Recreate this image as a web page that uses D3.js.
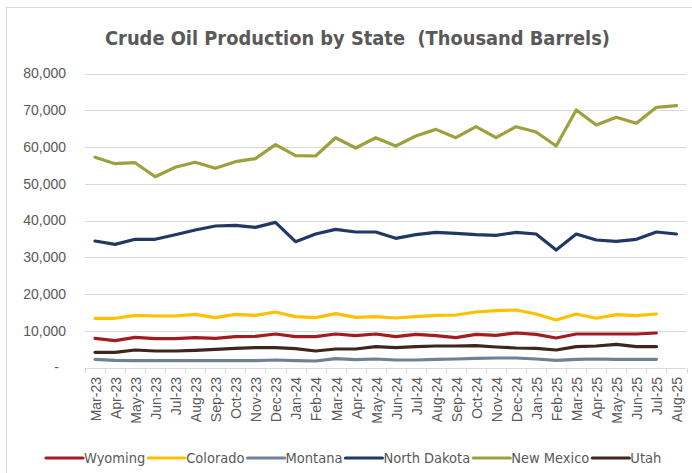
<!DOCTYPE html>
<html>
<head>
<meta charset="utf-8">
<script src="https://cdn.jsdelivr.net/npm/d3@7"></script>
<style>
  body { margin: 0; background: #fff; }
  text { fill: #595959; white-space: pre; }
</style>
</head>
<body>
<svg id="chart" width="692" height="473"></svg>
<script>
// categories
var months = ['Mar-23','Apr-23','May-23','Jun-23','Jul-23','Aug-23','Sep-23','Oct-23','Nov-23','Dec-23',
  'Jan-24','Feb-24','Mar-24','Apr-24','May-24','Jun-24','Jul-24','Aug-24','Sep-24','Oct-24','Nov-24','Dec-24',
  'Jan-25','Feb-25','Mar-25','Apr-25','May-25','Jun-25','Jul-25','Aug-25'];

// y tick values and labels
var yTicks = [0, 10000, 20000, 30000, 40000, 50000, 60000, 70000, 80000];
var yTickLabels = ['-', '10,000', '20,000', '30,000', '40,000', '50,000', '60,000', '70,000', '80,000'];

// series (thousand barrels), Aug-25 missing for some states
var wyoming = [7940, 7300, 8210, 7850, 7850, 8120, 7940, 8390, 8480, 9120, 8390, 8390, 9120, 8660, 9120,
  8390, 9030, 8660, 8120, 9030, 8750, 9390, 9030, 8030, 9120, 9120, 9120, 9120, 9390, null];
var colorado = [13390, 13390, 14200, 14010, 14010, 14470, 13560, 14470, 14200, 15100, 13830, 13560, 14650, 13650, 13830,
  13470, 13830, 14200, 14290, 15100, 15460, 15650, 14560, 12930, 14560, 13390, 14380, 14100, 14560, null];
var montana = [2220, 1950, 1860, 1860, 1860, 1860, 1860, 1860, 1860, 2040, 1860, 1770, 2400, 2130, 2310,
  2040, 2040, 2220, 2310, 2490, 2580, 2580, 2310, 1950, 2220, 2310, 2220, 2220, 2220, null];
var northDakota = [34420, 33510, 34880, 34880, 36140, 37410, 38500, 38690, 38140, 39500, 34240, 36320, 37600, 36870, 36870,
  35150, 36140, 36780, 36510, 36140, 35960, 36780, 36330, 31970, 36330, 34690, 34330, 34880, 36870, 36330];
var newMexico = [57200, 55460, 55730, 51920, 54470, 55840, 54200, 56000, 56830, 60630, 57630, 57550, 62530, 59730, 62530,
  60270, 63000, 64800, 62530, 65530, 62530, 65530, 64080, 60270, 70070, 66000, 68080, 66440, 70800, 71250];
var utah = [4130, 4130, 4760, 4490, 4490, 4670, 4940, 5220, 5400, 5400, 5130, 4490, 5030, 5030, 5670,
  5400, 5670, 5850, 5850, 5940, 5580, 5310, 5220, 4760, 5670, 5850, 6300, 5670, 5670, null];

var seriesNames = ['Wyoming', 'Colorado', 'Montana', 'North Dakota', 'New Mexico', 'Utah'];
var seriesValues = [wyoming, colorado, montana, northDakota, newMexico, utah];
var seriesColors = ['#a11d21', '#ffc000', '#6f8194', '#1f3864', '#9da13c', '#3d261b'];

var svg = d3.select('#chart');

// chart frame
svg.append('rect')
  .attr('x', 6.5).attr('y', 7.5)
  .attr('width', 700).attr('height', 500)
  .attr('fill', 'none')
  .attr('stroke', '#d9d9d9');

// title
svg.append('text')
  .attr('x', 105).attr('y', 45)
  .style('font-family', '"DejaVu Sans Condensed", sans-serif')
  .style('font-weight', 'bold')
  .style('font-size', '20px')
  .attr('textLength', 505)
  .attr('lengthAdjust', 'spacingAndGlyphs')
  .text('Crude Oil Production by State  (Thousand Barrels)');

// scales
var x = d3.scaleBand().domain(months).range([85, 686.5]);
var y = d3.scaleLinear().domain([0, 80000]).range([367.5, 73.5]);
var cx = function(m) { return x(m) + x.bandwidth() / 2; };

// gridlines
svg.append('g').selectAll('line')
  .data(yTicks.slice(1))
  .enter().append('line')
  .attr('x1', 85).attr('x2', 686.5)
  .attr('y1', function(d) { return Math.round(y(d)) + 0.5; })
  .attr('y2', function(d) { return Math.round(y(d)) + 0.5; })
  .attr('stroke', '#d9d9d9')
  .attr('stroke-width', 1);

// y labels
svg.append('g').selectAll('text')
  .data(yTicks)
  .enter().append('text')
  .attr('x', function(d, i) { return i === 0 ? 59 : 66; })
  .attr('y', function(d) { return y(d); })
  .attr('dy', '0.35em')
  .attr('text-anchor', 'end')
  .style('font-family', '"Liberation Sans", Arial, sans-serif')
  .style('font-size', '14px')
  .text(function(d, i) { return yTickLabels[i]; });

// x axis line and tick marks between categories
var xAxis = svg.append('g');
xAxis.append('line')
  .attr('x1', 85).attr('x2', 686.5)
  .attr('y1', 368.5).attr('y2', 368.5)
  .attr('stroke', '#d9d9d9');
xAxis.selectAll('.tk')
  .data(months.concat(['end']))
  .enter().append('line')
  .attr('class', 'tk')
  .attr('x1', function(d, i) { return Math.round(85 + i * x.bandwidth()) + 0.5; })
  .attr('x2', function(d, i) { return Math.round(85 + i * x.bandwidth()) + 0.5; })
  .attr('y1', 368.5).attr('y2', 373)
  .attr('stroke', '#d9d9d9');

// x labels (rotated)
xAxis.selectAll('text')
  .data(months)
  .enter().append('text')
  .attr('transform', function(d) { return 'translate(' + (cx(d) + 1) + ',377) rotate(-90)'; })
  .attr('dy', '0.35em')
  .attr('text-anchor', 'end')
  .style('font-family', '"Liberation Sans", Arial, sans-serif')
  .style('font-size', '14px')
  .text(function(d) { return d; });

// lines
var line = d3.line()
  .defined(function(d) { return d != null; })
  .x(function(d, i) { return cx(months[i]); })
  .y(function(d) { return y(d); });

svg.append('g').selectAll('path')
  .data(seriesValues)
  .enter().append('path')
  .attr('d', line)
  .attr('fill', 'none')
  .attr('stroke', function(d, i) { return seriesColors[i]; })
  .attr('stroke-width', 3.2)
  .attr('stroke-linejoin', 'round')
  .attr('stroke-linecap', 'round');

// legend
var legend = svg.append('g');
var lx = 46;
seriesNames.forEach(function(name, i) {
  legend.append('line')
    .attr('x1', lx).attr('x2', lx + 37)
    .attr('y1', 458).attr('y2', 458)
    .attr('stroke', seriesColors[i])
    .attr('stroke-width', 3.2)
    .attr('stroke-linecap', 'round');
  var t = legend.append('text')
    .attr('x', lx + 38).attr('y', 458)
    .attr('dy', '0.35em')
    .style('font-family', '"DejaVu Sans Condensed", sans-serif')
    .style('font-size', '14.5px')
    .text(name);
  lx += 38 + t.node().getComputedTextLength() + 3;
});
</script>
</body>
</html>
